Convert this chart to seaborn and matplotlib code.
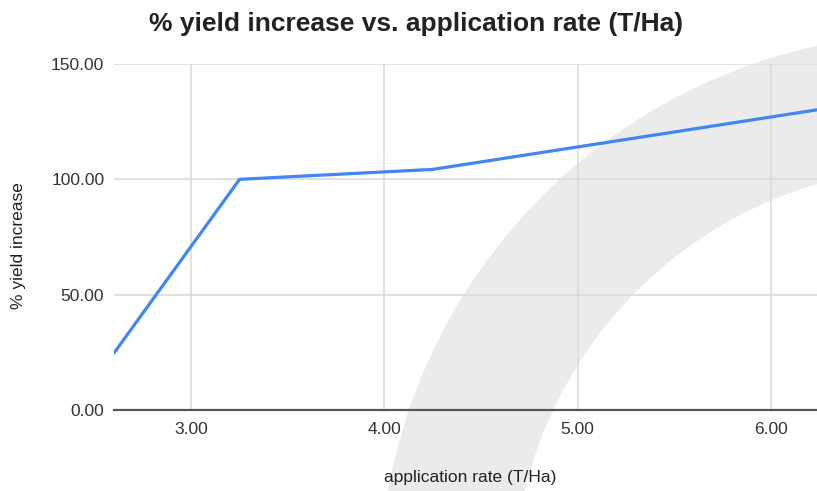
import matplotlib
matplotlib.use("Agg")
import matplotlib.pyplot as plt
import seaborn as sns
import pandas as pd
from matplotlib.patches import Wedge

# data
app_rate = [2.60, 3.25, 4.25, 6.50]
yield_increase = [24.7, 100.0, 104.3, 133.5]
x_ticks = [3, 4, 5, 6]
y_ticks = [0, 50, 100, 150]

df = pd.DataFrame({"rate": app_rate, "yield": yield_increase})

sns.set_style("white")
plt.rcParams["font.family"] = ["Liberation Sans", "DejaVu Sans"]

fig = plt.figure(figsize=(8.17, 4.91), dpi=100)
ax = fig.add_axes([114 / 817, 81 / 491, 703 / 817, 346 / 491])
ax.set_facecolor("none")

# grey arc in the background of the screenshot
arc = Wedge((936, -99), 557, 90, 200, width=134, transform=None,
            facecolor="#ebebeb", edgecolor="none", zorder=-1)
fig.patches.append(arc)

sns.lineplot(data=df, x="rate", y="yield", ax=ax, color="#4285F4",
             linewidth=2.3, zorder=3)

ax.set_xlim(2.6, 6.24)
ax.set_ylim(0, 150)
ax.set_xticks(x_ticks)
ax.set_yticks(y_ticks)
ax.set_xticklabels([f"{v:.2f}" for v in x_ticks])
ax.set_yticklabels([f"{v:.2f}" for v in y_ticks])
ax.tick_params(axis="both", length=0, labelsize=12.5, labelcolor="#333333")
ax.tick_params(axis="x", pad=9)
ax.tick_params(axis="y", pad=7)
ax.grid(True, color="#d9d9d9", linewidth=1.1, zorder=1)
ax.set_axisbelow(True)

for side in ["left", "right", "top"]:
    ax.spines[side].set_visible(False)
ax.spines["bottom"].set_color("#555555")
ax.spines["bottom"].set_linewidth(1.6)
ax.spines["bottom"].set_zorder(4)

ax.set_xlabel("application rate (T/Ha)", fontsize=12.5, color="#222222")
ax.set_ylabel("% yield increase", fontsize=12.5, color="#222222")
ax.xaxis.set_label_coords((470 - 114) / 703, -(470 - 410) / 346)
ax.yaxis.set_label_coords(-(114 - 26) / 703, (410 - 246) / 346)

fig.text(416 / 817, 1 - 24 / 491, "% yield increase vs. application rate (T/Ha)",
         ha="center", va="center", fontsize=19, fontweight="bold", color="#222222")

fig.savefig("out.png", dpi=100)
